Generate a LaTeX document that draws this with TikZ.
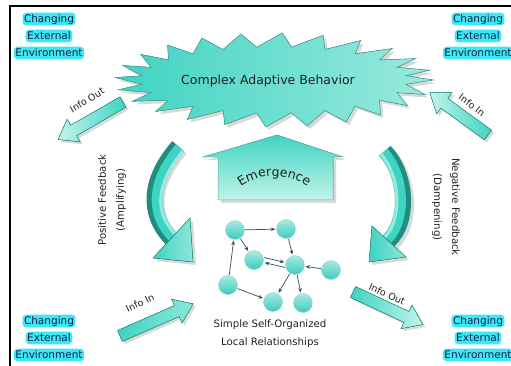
\documentclass[tikz,border=0pt]{standalone}
\usepackage{fontspec}
\setmainfont{DejaVu Sans}
\usetikzlibrary{decorations.text,calc,arrows.meta}
\definecolor{tdark}{HTML}{1E8C7E}
\definecolor{tmid}{HTML}{3FD3C2}
\definecolor{tlight}{HTML}{C2F4EA}
\definecolor{navy}{HTML}{14204A}
\definecolor{glow}{HTML}{3CE8F4}
\definecolor{edgec}{HTML}{2E4E5A}
\definecolor{txt}{HTML}{222222}
\tikzset{
  envtxt/.style={font=\fontsize{10.5}{12}\selectfont, text=navy, inner xsep=1.5pt, inner ysep=1.2pt,
    fill=glow, rounded corners=3.5pt, text depth=0.25ex, text height=1.6ex},
  lbl/.style={align=center, font=\fontsize{10.2}{18}\selectfont, text=txt, inner sep=0pt},
  infotxt/.style={font=\fontsize{9.5}{11}\selectfont, text=txt, inner sep=0pt},
  cnode/.style={circle, minimum size=19pt, inner sep=0pt, draw=tdark!40, top color=tmid!45!white, bottom color=tmid!90!tdark},
  link/.style={draw=edgec, line width=0.7pt, -{Stealth[length=4.5pt,width=3.6pt]}, shorten >=1pt, shorten <=0.5pt},
  shade/.style={black, opacity=0.15},
}
\newcommand\envlabel[3]{%
  \node[envtxt] (#3a) at (#1,#2-17) {Changing};
  \node[envtxt] (#3b) at (#1,#2) {External};
  \node[envtxt] (#3c) at (#1,#2+17) {Environment};}
% #1 tail, #2 angle, #3 length, #4 shading
\newcommand\blockarrow[4]{%
  \begin{scope}[shift={($(#1)+(2.5pt,-2.5pt)$)}, rotate=#2]
    \fill[shade] (0,-6) -- ({#3-18},-6) -- ({#3-18},-13) -- (#3,0) -- ({#3-18},13) -- ({#3-18},6) -- (0,6) -- cycle;
  \end{scope}
  \begin{scope}[shift={(#1)}, rotate=#2]
    \filldraw[draw=tdark, line width=0.5pt, #4] (0,-6) -- ({#3-18},-6) -- ({#3-18},-13) -- (#3,0) -- ({#3-18},13) -- ({#3-18},6) -- (0,6) -- cycle;
  \end{scope}}
\newcommand\starpath{(433,80) \foreach \i in {1,...,47}{ -- ({274+(146+13*cos(\i*180))*cos(\i*7.5+1.5*(1+cos(\i*180)))}, {80+(40+7*cos(\i*180))*sin(\i*7.5+1.5*(1+cos(\i*180)))}) } -- cycle}
\begin{document}
\begin{tikzpicture}[x=1pt,y=-1pt]
\useasboundingbox (0,0) rectangle (511,366);
\clip (0,0) rectangle (511,366);
\fill[white] (0,0) rectangle (511,366);
\draw[line width=2pt] (10,366) -- (10,6) -- (511,6);

% corner labels
\envlabel{49}{36}{envTL}
\envlabel{478}{36}{envTR}
\envlabel{49}{338}{envBL}
\envlabel{478}{338}{envBR}

% starburst
\fill[shade, shift={(3pt,-3pt)}] \starpath;
\filldraw[draw=tdark!80, line width=0.6pt, left color=tmid, right color=tlight!70!tmid] \starpath;
\node[infotxt, font=\fontsize{12.5}{14}\selectfont] (cab) at (268,81) {Complex Adaptive Behavior};

% info arrows
\blockarrow{123,102}{210}{75}{left color=tlight, right color=tmid}
\blockarrow{488,135}{144}{72}{left color=tlight, right color=tmid}
\blockarrow{120,336}{23.7}{80}{left color=tmid, right color=tlight!60!tmid}
\blockarrow{353,292}{-25}{77}{left color=tmid, right color=tlight}
\node[infotxt, rotate=32] (io1) at (87,100) {Info Out};
\node[infotxt, rotate=-37] (ii1) at (472,105) {Info In};
\node[infotxt, rotate=25] (ii2) at (140,303) {Info In};
\node[infotxt, rotate=-24] (io2) at (387,294) {Info Out};

% emergence arrow
\fill[shade] (221,203) -- (221,160) -- (206,160) -- (280,138) -- (346,160) -- (336,160) -- (336,203) -- cycle;
\filldraw[draw=tdark!70, line width=0.5pt, top color=tmid, bottom color=tlight] (218,200) -- (218,157) -- (203,157) -- (277,135) -- (343,157) -- (333,157) -- (333,200) -- cycle;
\path[decorate, decoration={text along path, text={|\fontsize{12.5}{12}\selectfont\color{txt}|Emergence}, text align=center}] (232,195) .. controls (252,171) and (292,169) .. (317,194);

% positive feedback arrow
\draw[line width=15pt, black, opacity=0.15] (181,149) .. controls (153,181) and (148,215) .. (174,242);
\fill[shade] (156,261) -- (193,221) -- (196,265) -- cycle;
\draw[line width=15pt, tdark] (178,146) .. controls (150,178) and (145,212) .. (171,239);
\draw[line width=11pt, tmid] (180,148) .. controls (153,180) and (149,212) .. (173,237);
\draw[line width=3pt, tlight!70!tmid] (183,151) .. controls (157,182) and (153,211) .. (175,234);
\filldraw[draw=tdark, line width=0.5pt, left color=tmid, right color=tlight!60!tmid] (153,258) -- (190,218) -- (193,262) -- cycle;
\node[lbl, rotate=90] (pf) at (112,200) {Positive Feedback\\(Amplifying)};

% negative feedback arrow
\draw[line width=15pt, black, opacity=0.15] (388,154) .. controls (411,178) and (413,225) .. (392,244);
\fill[shade] (375,229) -- (409,260) -- (372,265) -- cycle;
\draw[line width=15pt, tdark] (385,151) .. controls (408,175) and (410,222) .. (389,241);
\draw[line width=11pt, tmid] (383,152) .. controls (405,176) and (406,221) .. (387,239);
\draw[line width=3pt, tlight!70!tmid] (381,154) .. controls (401,177) and (402,220) .. (385,237);
\filldraw[draw=tdark, line width=0.5pt, left color=tmid, right color=tlight!60!tmid] (372,226) -- (406,257) -- (369,262) -- cycle;
\node[lbl, rotate=-90] (nf) at (446,207) {Negative Feedback\\(Dampening)};

% network
\node[cnode] (A) at (235,230) {};
\node[cnode] (B) at (286,229) {};
\node[cnode] (C) at (254,260) {};
\node[cnode] (D) at (295,265) {};
\node[cnode] (E) at (331,270) {};
\node[cnode] (F) at (228,285) {};
\node[cnode] (G) at (273,302) {};
\node[cnode] (H) at (303,303) {};
\draw[link] (A) -- (B);
\draw[link] (A) -- (C);
\draw[link] ([yshift=2.5pt]C.east) -- ([yshift=2.5pt]D.west);
\draw[link] ([yshift=-2.5pt]D.west) -- ([yshift=-2.5pt]C.east);
\draw[link] (B) -- (D);
\draw[link] (E) -- (D);
\draw[link] (F) -- (A);
\draw[link] (F) -- (G);
\draw[link] (D) -- (G);
\draw[link] (D) -- (H);
\node[lbl] (sso) at (270,334) {Simple Self-Organized\\Local Relationships};
\end{tikzpicture}
\end{document}
